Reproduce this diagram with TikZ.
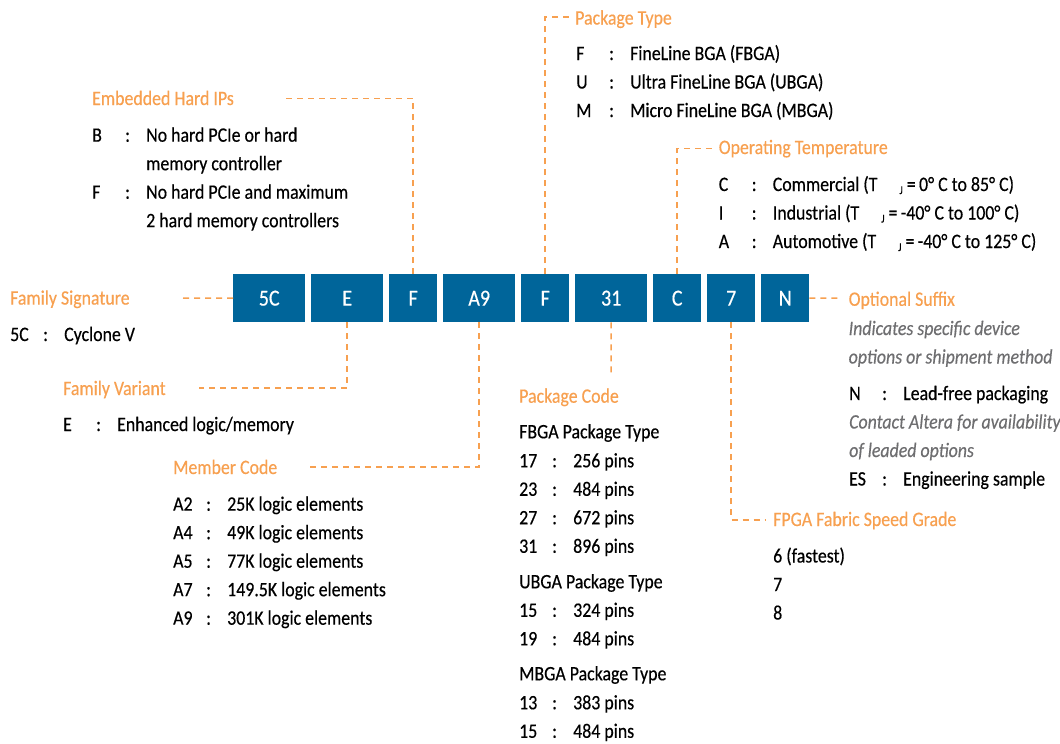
\documentclass[tikz,border=0pt]{standalone}
\usepackage{fontspec}
\setmainfont{Carlito}[FakeStretch=0.87,FakeBold=0.4]
\definecolor{boxblue}{RGB}{0,101,154}
\definecolor{leadorange}{RGB}{247,160,80}
\definecolor{notegray}{RGB}{110,110,112}
\newcommand{\entry}[2]{\makebox[33pt][l]{#1}\makebox[21pt][l]{:}#2}
\newcommand{\tj}{T\hspace{22pt}\raisebox{-3pt}{\fontsize{12}{12}\selectfont J}\hspace{4pt}=\,}

\begin{document}
\begin{tikzpicture}[x=1pt,y=-1pt,font=\fontsize{20.5}{24}\selectfont,
   code/.style={fill=boxblue,text=white,minimum height=48pt,inner sep=0pt,anchor=north west,font=\fontsize{23}{25}\selectfont},
   head/.style={text=leadorange,anchor=base west,inner sep=0pt},
   item/.style={anchor=base west,inner sep=0pt},
   note/.style={text=notegray,anchor=base west,inner sep=0pt,font=\fontsize{20.5}{24}\selectfont\itshape},
   lead/.style={draw=leadorange,line width=1.5pt,dash pattern=on 6pt off 5pt}]
   \useasboundingbox (0,0) rectangle (1060,744);

   % code boxes
   \node[code,minimum width=72pt] (fam) at (233,274) {5C};
   \node[code,minimum width=72pt] (var) at (311,274) {E};
   \node[code,minimum width=48pt] (ips) at (389,274) {F};
   \node[code,minimum width=72pt] (mem) at (443,274) {A9};
   \node[code,minimum width=48pt] (ptype) at (521,274) {F};
   \node[code,minimum width=72pt] (pcode) at (575,274) {31};
   \node[code,minimum width=48pt] (temp) at (653,274) {C};
   \node[code,minimum width=48pt] (speed) at (707,274) {7};
   \node[code,minimum width=48pt] (sfx) at (761,274) {N};

   % family signature
   \node[head] (famH) at (10,304.6) {Family Signature};
   \node[item] (fam1) at (10,341) {\entry{5C}{Cyclone V}};

   % embedded hard ips
   \node[head] (ipsH) at (92,105) {Embedded Hard IPs};
   \node[item] (ips1) at (92,141.7) {\entry{B}{No hard PCIe or hard}};
   \node[item] (ips1b) at (146,170.2) {memory controller};
   \node[item] (ips2) at (92,198.7) {\entry{F}{No hard PCIe and maximum}};
   \node[item] (ips2b) at (146,227.2) {2 hard memory controllers};

   % family variant
   \node[head] (varH) at (63,395) {Family Variant};
   \node[item] (var1) at (63,431) {\entry{E}{Enhanced logic/memory}};

   % member code
   \node[head] (memH) at (173,474) {Member Code};
   \node[item] (mem1) at (173,510.7) {\entry{A2}{25K logic elements}};
   \node[item] (mem2) at (173,539.2) {\entry{A4}{49K logic elements}};
   \node[item] (mem3) at (173,567.7) {\entry{A5}{77K logic elements}};
   \node[item] (mem4) at (173,596.2) {\entry{A7}{149.5K logic elements}};
   \node[item] (mem5) at (173,624.7) {\entry{A9}{301K logic elements}};

   % package type
   \node[head] (ptypeH) at (575,24.5) {Package Type};
   \node[item] (ptype1) at (576,60) {\entry{F}{FineLine BGA (FBGA)}};
   \node[item] (ptype2) at (576,88.5) {\entry{U}{Ultra FineLine BGA (UBGA)}};
   \node[item] (ptype3) at (576,117) {\entry{M}{Micro FineLine BGA (MBGA)}};

   % package code
   \node[head] (pcodeH) at (519,402.7) {Package Code};
   \node[item] (pcodeF) at (519,438.3) {FBGA Package Type};
   \node[item] (pcode1) at (519,467.3) {\entry{17}{256 pins}};
   \node[item] (pcode2) at (519,495.8) {\entry{23}{484 pins}};
   \node[item] (pcode3) at (519,524.3) {\entry{27}{672 pins}};
   \node[item] (pcode4) at (519,552.8) {\entry{31}{896 pins}};
   \node[item] (pcodeU) at (519,588.3) {UBGA Package Type};
   \node[item] (pcode5) at (519,616.8) {\entry{15}{324 pins}};
   \node[item] (pcode6) at (519,645.3) {\entry{19}{484 pins}};
   \node[item] (pcodeM) at (519,680.3) {MBGA Package Type};
   \node[item] (pcode7) at (519,709.3) {\entry{13}{383 pins}};
   \node[item] (pcode8) at (519,737.8) {\entry{15}{484 pins}};

   % operating temperature
   \node[head] (tempH) at (718.6,154) {Operating Temperature};
   \node[item] (temp1) at (718.6,191) {\entry{C}{Commercial (\tj 0° C to 85° C)}};
   \node[item] (temp2) at (718.6,219.5) {\entry{I}{Industrial (\tj -40° C to 100° C)}};
   \node[item] (temp3) at (718.6,248) {\entry{A}{Automotive (\tj -40° C to 125° C)}};

   % optional suffix
   \node[head] (sfxH) at (848.5,305.8) {Optional Suffix};
   \node[note] (sfxN1) at (848.5,335) {Indicates specific device};
   \node[note] (sfxN2) at (848.5,363.5) {options or shipment method};
   \node[item] (sfx1) at (849,400) {\entry{N}{Lead-free packaging}};
   \node[note] (sfxN3) at (849,428.5) {Contact Altera for availability};
   \node[note] (sfxN4) at (849,457) {of leaded options};
   \node[item] (sfx2) at (849,485.5) {\entry{ES}{Engineering sample}};

   % speed grade
   \node[head] (speedH) at (773,526) {FPGA Fabric Speed Grade};
   \node[item] (speed1) at (773,562.5) {6 (fastest)};
   \node[item] (speed2) at (773,591) {7};
   \node[item] (speed3) at (773,619.5) {8};

   % leaders
   \coordinate (famEnd) at (179,298);
   \coordinate (ipsEnd) at (283,98.3);
   \coordinate (varEnd) at (199,388);
   \coordinate (memEnd) at (308,467);
   \coordinate (ptypeEnd) at (570,17);
   \coordinate (pcodeEnd) at (611,373);
   \coordinate (tempEnd) at (712,148.6);
   \coordinate (speedEnd) at (765,520);
   \coordinate (sfxEnd) at (840,298);

   \draw[lead] (fam.west) -- (famEnd);
   \draw[lead] (ips.north) |- (ipsEnd);
   \draw[lead] (var.south) |- (varEnd);
   \draw[lead] (mem.south) |- (memEnd);
   \draw[lead] (ptype.north) |- (ptypeEnd);
   \draw[lead] (pcode.south) -- (pcodeEnd);
   \draw[lead] (temp.north) |- (tempEnd);
   \draw[lead] (speed.south) |- (speedEnd);
   \draw[lead] (sfx.east) -- (sfxEnd);

\end{tikzpicture}
\end{document}
